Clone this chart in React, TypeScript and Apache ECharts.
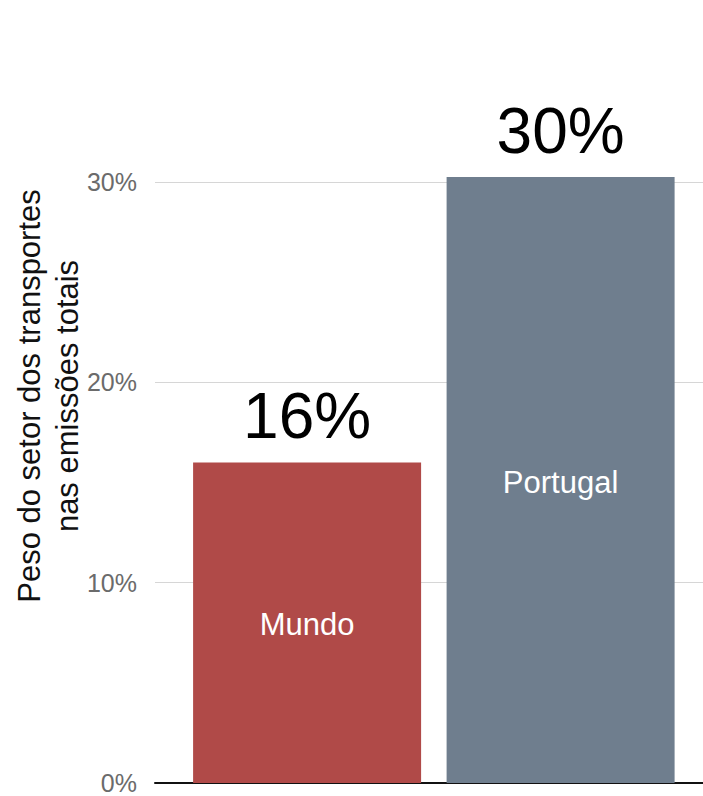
import React, { useEffect, useRef } from "react";
import * as echarts from "echarts";

const categories: string[] = ["Mundo", "Portugal"];
const values: number[] = [16.0, 30.25];
const barColors: string[] = ["#b04a48", "#6f7e8e"];
const yTicks: number[] = [0, 10, 20, 30, 40];
const yTitle = "Peso do setor dos transportes\nnas emissões totais";

const FONT = "'Liberation Sans', Arial, Helvetica, sans-serif";

export default function App() {
  const ref = useRef<HTMLDivElement>(null);
  useEffect(() => {
    if (!ref.current) return;
    const chart = echarts.init(ref.current, undefined, { renderer: "svg" });
    const barData = categories.map((c, i) => ({
      name: c,
      value: [i + 1, values[i]],
      itemStyle: { color: barColors[i] },
    }));
    chart.setOption({
      animation: false,
      backgroundColor: "#ffffff",
      grid: {
        left: 155,
        width: 557.7,
        top: -18.3,
        height: 801.3,
        containLabel: false,
        outerBoundsMode: "none",
      },
      xAxis: {
        type: "value",
        min: 0.4,
        max: 2.6,
        axisLabel: { show: false },
        axisTick: { show: false },
        splitLine: { show: false },
        axisLine: { show: true, lineStyle: { color: "#111111", width: 2 } },
      },
      yAxis: {
        type: "value",
        min: yTicks[0],
        max: yTicks[yTicks.length - 1],
        interval: 10,
        axisLine: { show: false },
        axisTick: { show: false },
        axisLabel: {
          formatter: (v: number) => `${v}%`,
          color: "#6b6b6b",
          fontSize: 25,
          fontFamily: FONT,
          margin: 18,
          showMaxLabel: false,
        },
        splitLine: { show: true, lineStyle: { color: "#d6d6d6", width: 1.2 } },
      },
      series: [
        {
          type: "bar",
          data: barData,
          barWidth: 228,
          barGap: "-100%",
          label: {
            show: true,
            position: "inside",
            offset: [0, 2],
            formatter: (p: any) => p.name,
            color: "#ffffff",
            fontSize: 31,
            fontFamily: FONT,
          },
        },
        {
          type: "bar",
          data: barData.map((d) => ({ name: d.name, value: d.value })),
          barWidth: 228,
          barGap: "-100%",
          silent: true,
          itemStyle: { color: "rgba(0,0,0,0)" },
          label: {
            show: true,
            position: "top",
            distance: 14,
            formatter: (p: any) => `${Math.round(p.value[1])}%`,
            color: "#000000",
            fontSize: 64,
            fontFamily: FONT,
          },
        },
      ],
      graphic: [
        {
          type: "text",
          x: 48,
          y: 396,
          rotation: Math.PI / 2,
          style: {
            text: yTitle,
            fill: "#111111",
            fontSize: 31,
            fontFamily: FONT,
            align: "center",
            verticalAlign: "middle",
            lineHeight: 38,
          },
        },
      ],
    });
    return () => chart.dispose();
  }, []);
  return (
    <div
      ref={ref}
      style={{ position: "absolute", left: 0, top: 0, width: 703, height: 796 }}
    />
  );
}
